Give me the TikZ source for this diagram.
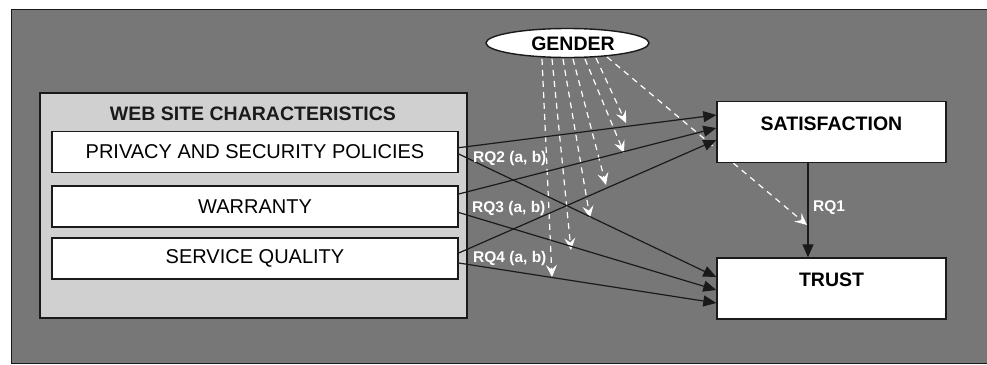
\documentclass[tikz,border=0pt]{standalone}
\usepackage{fontspec}
\setmainfont{Liberation Sans}
\usetikzlibrary{arrows.meta,calc,shapes.geometric}
\definecolor{bggray}{HTML}{777777}
\definecolor{lgray}{HTML}{D0D0D0}
\definecolor{edge}{HTML}{1A1A1A}
\pgfdeclarelayer{back}
\pgfdeclarelayer{links}
\pgfsetlayers{back,links,main}
\begin{document}
\begin{tikzpicture}[x=1pt,y=-1pt,
 box/.style={draw=edge, line width=1.4pt, fill=white, inner sep=0pt, anchor=center},
 item/.style={box, minimum width=406pt, minimum height=41pt, font=\fontsize{20}{24}\selectfont},
 outcome/.style={box, minimum width=229pt, minimum height=61pt, text height=14pt, text depth=18pt, font=\fontsize{19.5}{23}\selectfont\bfseries},
 link/.style={draw=edge, line width=1.2pt, -{Triangle[length=13pt,width=11pt]}},
 modlink/.style={draw=white, line width=1.2pt, dash pattern=on 6pt off 5pt, -{Stealth[length=12pt,width=11pt,inset=4.5pt,fill=white]}},
 rq/.style={text=white, font=\fontsize{15.5}{18}\selectfont\bfseries, inner sep=0pt, anchor=west}
]
\useasboundingbox (0,0) rectangle (987,364);
\begin{pgfonlayer}{back}
\fill[white] (0,0) rectangle (987,364);
\draw[fill=bggray, draw=edge, line width=1pt] (11,9.5) rectangle (995,363);
\node[draw=edge, line width=1.2pt, fill=lgray, minimum width=427pt, minimum height=225pt, inner sep=0pt] (web) at (253.5,205.5) {};
\end{pgfonlayer}

\node[font=\fontsize{19.5}{23}\selectfont\bfseries, text=edge, inner sep=0pt] (webtitle) at (253,114) {WEB SITE CHARACTERISTICS};
\node[item] (priv) at (255,152) {PRIVACY AND SECURITY POLICIES};
\node[item] (warr) at (255,206.5) {WARRANTY};
\node[item] (serv) at (255,258.5) {SERVICE QUALITY};

\node[outcome] (sat) at (831.5,132) {SATISFACTION};
\node[outcome] (trust) at (831.5,288.5) {TRUST};

\node[ellipse, draw=edge, line width=1.4pt, fill=white, minimum width=163pt, minimum height=29pt, inner sep=0pt, text height=14pt, text depth=0pt, font=\fontsize{19.5}{23}\selectfont\bfseries] (gender) at (567.5,43) {\hspace*{11pt}GENDER};

\node[rq] (rq2) at (473,158) {RQ2 (a, b)};
\node[rq] (rq3) at (472,208) {RQ3 (a, b)};
\node[rq] (rq4) at (473,258) {RQ4 (a, b)};
\node[rq] (rq1) at (813,208) {RQ1};

\coordinate (m1) at (552,277);
\coordinate (m2) at (571,250);
\coordinate (m3) at (590,218);
\coordinate (m4) at (606,185);
\coordinate (m5) at (624,153);
\coordinate (m6) at (626,123);
\coordinate (m7) at (807,225);

\begin{pgfonlayer}{links}
\draw[modlink] ($(gender.center)+(-25.5,16)$) -- (m1);
\draw[modlink] ($(gender.center)+(-15.5,16)$) -- (m2);
\draw[modlink] ($(gender.center)+(-4.5,16)$) -- (m3);
\draw[modlink] ($(gender.center)+(5.5,16)$) -- (m4);
\draw[modlink] ($(gender.center)+(17.5,16)$) -- (m5);
\draw[modlink] ($(gender.center)+(28.5,15)$) -- (m6);
\draw[modlink] ($(gender.center)+(39.5,14)$) -- (m7);

\draw[link] ($(priv.east)+(0,-4.3)$) -- ($(sat.west)+(0,-17)$);
\draw[link] ($(priv.east)+(0,2)$) -- ($(trust.west)+(0,-11.5)$);
\draw[link] ($(warr.east)+(0,-12.5)$) -- ($(sat.west)+(0,-4)$);
\draw[link] ($(warr.east)+(0,6)$) -- ($(trust.west)+(0,1.5)$);
\draw[link] ($(serv.east)+(0,-5.5)$) -- ($(sat.west)+(0,8)$);
\draw[link] ($(serv.east)+(0,4.5)$) -- ($(trust.west)+(0,14.5)$);
\draw[link] ($(sat.south)+(-23.5,0)$) -- ($(trust.north)+(-23.5,0)$);
\end{pgfonlayer}
\end{tikzpicture}
\end{document}
